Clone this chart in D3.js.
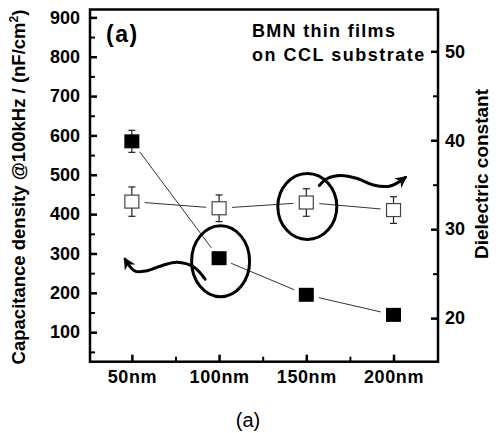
<!DOCTYPE html>
<html>
<head>
<meta charset="utf-8">
<script src="https://cdn.jsdelivr.net/npm/d3@7"></script>
<style>
  body { margin: 0; background: #fff; }
  svg { display: block; font-family: "Liberation Sans", Arial, sans-serif; }
  .tick text { font-weight: bold; font-size: 18px; fill: #000; }
  .xaxis .tick text { letter-spacing: 0.6px; }
</style>
</head>
<body>
<div id="chart"></div>
<script>
var width = 496;
var height = 433;
var frame = {left: 90, right: 438, top: 9.5, bottom: 361.7};

// data
var thickness = [50, 100, 150, 200];
var capacitance = [585, 288, 195, 144];      // nF/cm2, filled squares, left axis
var capErr = [28, 0, 0, 0];
var dielectric = [33.1, 32.35, 33.0, 32.15]; // open squares, right axis
var dielErr = [1.65, 1.5, 1.55, 1.5];

var leftTicks = [100, 200, 300, 400, 500, 600, 700, 800, 900];
var leftMinor = [50, 150, 250, 350, 450, 550, 650, 750, 850];
var rightTicks = [20, 30, 40, 50];
var rightMinor = [25, 35, 45];
var xMinor = [75, 125, 175];

var svg = d3.select("#chart").append("svg")
  .attr("width", width)
  .attr("height", height);

//-----------------------------------------
// scales
var x = d3.scaleLinear().domain([26, 225.5]).range([frame.left, frame.right]);
var yL = d3.scaleLinear().domain([25, 920]).range([frame.bottom, frame.top]);
var yR = d3.scaleLinear().domain([15.1, 54.7]).range([frame.bottom, frame.top]);

//-----------------------------------------
// axes (ticks point inward)
function styleAxis(g, w) {
  g.select(".domain").remove();
  g.selectAll(".tick line").attr("stroke", "#000").attr("stroke-width", w);
}

svg.append("g")
  .attr("transform", "translate(" + frame.left + ",0)")
  .call(d3.axisLeft(yL).tickValues(leftTicks).tickSize(-7).tickPadding(10))
  .call(styleAxis, 2.5);
svg.append("g")
  .attr("transform", "translate(" + frame.left + ",0)")
  .call(d3.axisLeft(yL).tickValues(leftMinor).tickSize(-5).tickFormat(""))
  .call(styleAxis, 2);

svg.append("g")
  .attr("transform", "translate(" + frame.right + ",0)")
  .call(d3.axisRight(yR).tickValues(rightTicks).tickSize(-7).tickPadding(7))
  .call(styleAxis, 2.5);
svg.append("g")
  .attr("transform", "translate(" + frame.right + ",0)")
  .call(d3.axisRight(yR).tickValues(rightMinor).tickSize(-5).tickFormat(""))
  .call(styleAxis, 2);

svg.append("g")
  .attr("class", "xaxis")
  .attr("transform", "translate(0," + frame.bottom + ")")
  .call(d3.axisBottom(x).tickValues(thickness).tickSize(-7).tickPadding(9)
    .tickFormat(function(d) { return d + "nm"; }))
  .call(styleAxis, 2.5);
svg.append("g")
  .attr("transform", "translate(0," + frame.bottom + ")")
  .call(d3.axisBottom(x).tickValues(xMinor).tickSize(-5).tickFormat(""))
  .call(styleAxis, 2);

svg.append("rect")
  .attr("x", frame.left)
  .attr("y", frame.top)
  .attr("width", frame.right - frame.left)
  .attr("height", frame.bottom - frame.top)
  .attr("fill", "none")
  .attr("stroke", "#000")
  .attr("stroke-width", 2.5);

//-----------------------------------------
// connecting lines, with a gap at each marker
function gapLines(vals, yScale, cls) {
  var pts = thickness.map(function(t, i) { return [x(t), yScale(vals[i])]; });
  var gap = 13;
  for (var i = 0; i < pts.length - 1; i++) {
    var a = pts[i], b = pts[i + 1];
    var dx = b[0] - a[0], dy = b[1] - a[1];
    var len = Math.sqrt(dx * dx + dy * dy);
    svg.append("line")
      .attr("class", cls)
      .attr("x1", a[0] + dx / len * gap)
      .attr("y1", a[1] + dy / len * gap)
      .attr("x2", b[0] - dx / len * gap)
      .attr("y2", b[1] - dy / len * gap)
      .attr("stroke", "#333")
      .attr("stroke-width", 1);
  }
}
gapLines(capacitance, yL, "cap-line");
gapLines(dielectric, yR, "diel-line");

//-----------------------------------------
// error bars
function errBars(vals, errs, yScale) {
  thickness.forEach(function(t, i) {
    if (!errs[i]) return;
    var cx = x(t);
    var y1 = yScale(vals[i] + errs[i]), y2 = yScale(vals[i] - errs[i]);
    var g = svg.append("g").attr("stroke", "#222").attr("stroke-width", 1.2);
    g.append("line").attr("x1", cx).attr("x2", cx).attr("y1", y1).attr("y2", y2);
    g.append("line").attr("x1", cx - 3.5).attr("x2", cx + 3.5).attr("y1", y1).attr("y2", y1);
    g.append("line").attr("x1", cx - 3.5).attr("x2", cx + 3.5).attr("y1", y2).attr("y2", y2);
  });
}
errBars(capacitance, capErr, yL);
errBars(dielectric, dielErr, yR);

//-----------------------------------------
// markers
var sw = 15, sh = 14;
svg.selectAll(".cap").data(thickness).enter().append("rect")
  .attr("class", "cap")
  .attr("x", function(d) { return x(d) - sw / 2; })
  .attr("y", function(d, i) { return yL(capacitance[i]) - sh / 2; })
  .attr("width", sw).attr("height", sh)
  .attr("fill", "#000");

svg.selectAll(".diel").data(thickness).enter().append("rect")
  .attr("class", "diel")
  .attr("x", function(d) { return x(d) - sw / 2 + 0.5; })
  .attr("y", function(d, i) { return yR(dielectric[i]) - sh / 2 + 0.5; })
  .attr("width", sw - 1).attr("height", sh - 1)
  .attr("fill", "#fff")
  .attr("stroke", "#444")
  .attr("stroke-width", 1.2);

//-----------------------------------------
// hand drawn circles and arrows
svg.append("defs").append("marker")
  .attr("id", "head")
  .attr("viewBox", "0 0 10 10")
  .attr("refX", 8).attr("refY", 5)
  .attr("markerWidth", 4).attr("markerHeight", 4)
  .attr("orient", "auto")
  .append("path").attr("d", "M0,0 L10,5 L0,10 L3,5 Z").attr("fill", "#000");

var c1 = [x(thickness[1]), yL(capacitance[1])];
var c2 = [x(thickness[2]), yR(dielectric[2])];

svg.append("ellipse")
  .attr("cx", c1[0] + 1.5).attr("cy", c1[1] + 3)
  .attr("rx", 29).attr("ry", 35.5)
  .attr("fill", "none").attr("stroke", "#000").attr("stroke-width", 3);
svg.append("ellipse")
  .attr("cx", c2[0] + 1).attr("cy", c2[1] + 4)
  .attr("rx", 29.5).attr("ry", 33)
  .attr("fill", "none").attr("stroke", "#000").attr("stroke-width", 3);

var curvy = d3.line().curve(d3.curveCatmullRom.alpha(0.5));
var arrow1 = [[-14, 21], [-25, 9], [-42, 4], [-56, 7], [-72, 12.5], [-84, 13], [-94, 1]];
var arrow2 = [[13, -17], [21, -24], [34, -27], [51, -24], [67, -17.5], [84, -16.5], [99, -25]];

svg.append("path")
  .attr("d", curvy(arrow1.map(function(p) { return [c1[0] + p[0], c1[1] + p[1]]; })))
  .attr("fill", "none").attr("stroke", "#000").attr("stroke-width", 3)
  .attr("stroke-linecap", "round")
  .attr("marker-end", "url(#head)");
svg.append("path")
  .attr("d", curvy(arrow2.map(function(p) { return [c2[0] + p[0], c2[1] + p[1]]; })))
  .attr("fill", "none").attr("stroke", "#000").attr("stroke-width", 3)
  .attr("stroke-linecap", "round")
  .attr("marker-end", "url(#head)");

//-----------------------------------------
// text
svg.append("text")
  .attr("x", 106).attr("y", 42)
  .attr("font-size", 23).attr("font-weight", "bold")
  .attr("letter-spacing", 1.5)
  .text("(a)");

svg.append("text")
  .attr("x", 252).attr("y", 37)
  .attr("font-size", 18).attr("font-weight", "bold")
  .attr("letter-spacing", 1.3)
  .text("BMN thin films");
svg.append("text")
  .attr("x", 252).attr("y", 61)
  .attr("font-size", 18).attr("font-weight", "bold")
  .attr("letter-spacing", 1.5)
  .text("on CCL substrate");

var yTitle = svg.append("text")
  .attr("transform", "translate(25," + 187 + ") rotate(-90)")
  .attr("text-anchor", "middle")
  .attr("font-size", 18.5)
  .attr("font-weight", "bold");
yTitle.append("tspan").text("Capacitance density @100kHz / (nF/cm");
yTitle.append("tspan").attr("dy", -7).attr("font-size", 12).text("2");
yTitle.append("tspan").attr("dy", 7).text(")");

svg.append("text")
  .attr("transform", "translate(488," + 174 + ") rotate(-90)")
  .attr("text-anchor", "middle")
  .attr("font-size", 19)
  .attr("font-weight", "bold")
  .text("Dielectric constant");

svg.append("text")
  .attr("x", 248).attr("y", 427)
  .attr("text-anchor", "middle")
  .attr("font-size", 20)
  .text("(a)");
</script>
</body>
</html>
